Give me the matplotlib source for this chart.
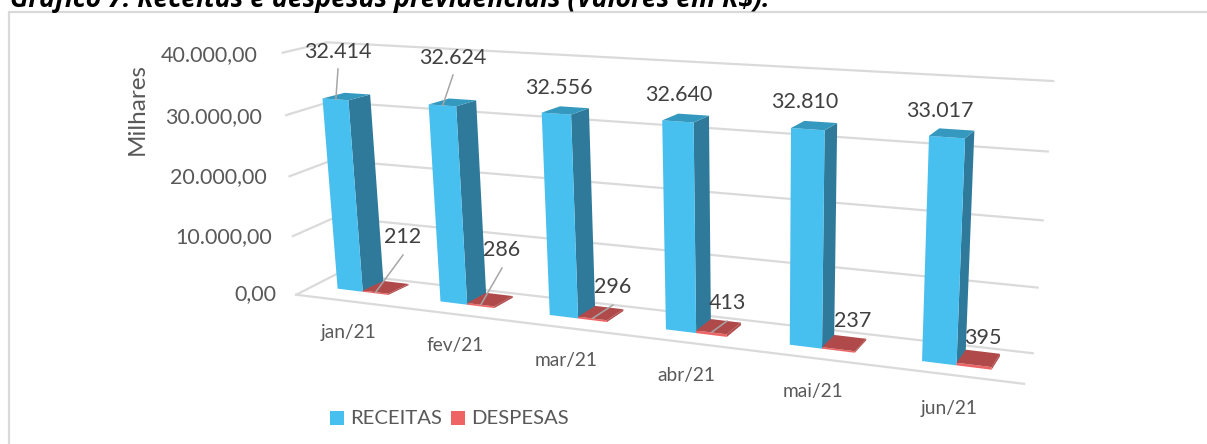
import numpy as np
import matplotlib
matplotlib.use("Agg")
import matplotlib.pyplot as plt
from matplotlib.patches import Rectangle

# ---- data ----
months = ["jan/21", "fev/21", "mar/21", "abr/21", "mai/21", "jun/21"]
receitas = [32414, 32624, 32556, 32640, 32810, 33017]
despesas = [212, 286, 296, 413, 237, 395]
receitas_labels = ["32.414", "32.624", "32.556", "32.640", "32.810", "33.017"]
despesas_labels = ["212", "286", "296", "413", "237", "395"]
y_ticks = [0, 10000, 20000, 30000, 40000]
y_tick_labels = ["0,00", "10.000,00", "20.000,00", "30.000,00", "40.000,00"]
series_names = ["RECEITAS", "DESPESAS"]
title = "Gráfico 7: Receitas e despesas previdenciais (Valores em R$)."
y_title = "Milhares"

W, H = 1207, 444
fig = plt.figure(figsize=(W / 100, H / 100), dpi=100, facecolor="white")
ax = fig.add_axes([0, 0, 1, 1])
ax.set_xlim(0, W)
ax.set_ylim(H, 0)
ax.axis("off")

# ---- perspective cameras: least-squares fits to reference landmarks ----
ZMAX = 40000.0
NC = 6.0
X0, XM, X1 = 0.25, 0.50, 0.75
D0, D1 = 0.25, 0.75


def fit_camera(pairs, rounds=8):
    P = None
    for _ in range(rounds):
        rows = []
        for (X, Y, Z), (u, v) in pairs:
            w = 1.0 if P is None else float(P[2] @ np.array([X, Y, Z, 1.0]))
            rows.append(np.array([X, Y, Z, 1, 0, 0, 0, 0, -u * X, -u * Y, -u * Z, -u]) / w)
            rows.append(np.array([0, 0, 0, 0, X, Y, Z, 1, -v * X, -v * Y, -v * Z, -v]) / w)
        P = np.linalg.svd(np.array(rows, float))[2][-1].reshape(3, 4)
    return P


box_marks = [((0, 1, 0), (335, 275)), ((1, 1, 0), (1033, 352)),
             ((0, 1, 1), (330, 42)), ((1, 1, 1), (1053, 81)),
             ((0, 0, 0), (299, 293)), ((1, 0, 0), (1024, 385)),
             ((0, 0, 1), (280, 53))]
foot_left = [(334, 289), (437, 302), (546, 315), (662, 329), (785, 345), (916, 361)]
foot_mid = [(363, 292), (467, 304), (578, 318), (696, 333), (821, 349), (956, 365)]
foot_right = [(393, 296), (499, 308), (612, 322), (731, 337), (859, 353), (995, 370)]
top_left = [(322, 98), (428, 104), (541, 112), (660, 120), (788, 128), (927, 136)]
bar_marks = []
for i in range(6):
    bar_marks.append((((i + X0) / NC, D0, 0), foot_left[i]))
    bar_marks.append((((i + XM) / NC, D0, 0), foot_mid[i]))
    bar_marks.append((((i + X1) / NC, D0, 0), foot_right[i]))
    bar_marks.append((((i + X0) / NC, D0, receitas[i] / ZMAX), top_left[i]))
for i, px in [(0, (352, 99)), (4, (828, 131)), (5, (968, 139))]:
    bar_marks.append((((i + XM) / NC, D0, receitas[i] / ZMAX), px))
for i, px in [(0, (370, 95)), (1, (476, 100)), (4, (837, 123)), (5, (974, 132))]:
    bar_marks.append((((i + XM) / NC, D1, receitas[i] / ZMAX), px))
for i, px in [(0, (381, 282)), (4, (831, 336)), (5, (968, 351))]:
    bar_marks.append((((i + XM) / NC, D1, 0), px))
for i, px in [(0, (410, 286)), (1, (514, 298)), (2, (624, 311)), (4, (867, 341)), (5, (1000, 355))]:
    bar_marks.append((((i + X1) / NC, D1, 0), px))

P_box = fit_camera(box_marks)
P_bar = fit_camera(bar_marks)


def proj(P, cat, depth, val):
    p = P @ np.array([cat / NC, depth, val / ZMAX, 1.0])
    return p[0] / p[2], p[1] / p[2]


GRID = "#DADADA"
TXT = "#595959"
LBL = "#404040"
FONT = "Lato"

# walls / floor gridlines
for t in y_ticks:
    pts = [proj(P_box, 0, 0, t), proj(P_box, 0, 1, t), proj(P_box, NC, 1, t)]
    ax.plot(*zip(*pts), color=GRID, lw=1.6, zorder=1, solid_joinstyle="miter")
ax.plot(*zip(proj(P_box, 0, 0, 0), proj(P_box, NC, 0, 0)), color=GRID, lw=1.6, zorder=1)


def bar(cat, x0, x1, v, front, side, top, z):
    a, b = cat + x0, cat + x1
    q = lambda c, d, h: proj(P_bar, c, d, h)
    ax.fill(*zip(q(b, D0, 0), q(b, D1, 0), q(b, D1, v), q(b, D0, v)),
            color=side, lw=0, zorder=z)
    ax.fill(*zip(q(a, D0, 0), q(b, D0, 0), q(b, D0, v), q(a, D0, v)),
            color=front, lw=0, zorder=z + 0.1)
    ax.fill(*zip(q(a, D0, v), q(b, D0, v), q(b, D1, v), q(a, D1, v)),
            color=top, lw=0, zorder=z + 0.1)


rec_lab_xy = [(338, 52), (453, 58), (559, 88), (679, 95), (805, 102), (940, 111)]
dep_lab_xy = [(403, 237), (502, 250), (613, 287), (727, 303), (853, 321), (983, 338)]
rec_leader = [True, True, False, False, False, False]
dep_leader = [True, True, True, True, False, False]

for i in range(len(months)):
    bar(i, X0, XM, receitas[i], "#47BFEF", "#2F7A9A", "#3599BF", 3 + i)
    bar(i, XM, X1, despesas[i], "#EE6464", "#B04A4A", "#B04A4A", 3.5 + i)

    for val, x0, x1, xy, lab, lead, gap in [
        (receitas[i], X0, XM, rec_lab_xy[i], receitas_labels[i], rec_leader[i], 17),
        (despesas[i], XM, X1, dep_lab_xy[i], despesas_labels[i], dep_leader[i], 18),
    ]:
        ax.text(xy[0], xy[1], lab, ha="center", va="center", fontsize=15.5,
                color=LBL, family=FONT, zorder=20)
        if lead:
            ex, ey = proj(P_bar, i + (x0 + x1) / 2, D0 + 0.01, val)
            ax.plot([xy[0], ex], [xy[1] + gap, ey], color="#A6A6A6", lw=1.1, zorder=19)

# axis labels
tick_right = [276, 272, 267, 262, 258]
tick_cy = [294, 237, 177, 117, 55]
for r, c, lab in zip(tick_right, tick_cy, y_tick_labels):
    ax.text(r, c, lab, ha="right", va="center", fontsize=15.5, color=TXT, family=FONT)
ax.text(137, 108.5, y_title, rotation=90, ha="center", va="center", fontsize=17.5,
        color=TXT, family=FONT)

cat_xy = [(349, 332), (455, 345), (566, 360), (686, 375), (813, 391), (949, 408)]
for (x, y), lab in zip(cat_xy, months):
    ax.text(x, y, lab, ha="center", va="center", fontsize=13.8, color=TXT, family=FONT)

# legend
for x0, col, tx, name in [(330, "#47BFEF", 350, series_names[0]),
                          (451, "#EE6464", 471, series_names[1])]:
    ax.add_patch(Rectangle((x0, 411), 14, 14, color=col, lw=0))
    ax.text(tx, 418, name, ha="left", va="center", fontsize=14.6, color=TXT, family=FONT)

# frame and clipped title
ax.plot([9, 9, W], [H, 12.5, 12.5], color="#D9D9D9", lw=1.6, zorder=2, clip_on=False,
        solid_joinstyle="miter")
ax.text(10, 7, title, ha="left", va="baseline", fontsize=19.2, fontweight="bold",
        style="italic", color="black", family="Open Sans")

fig.savefig("out.png", dpi=100)
